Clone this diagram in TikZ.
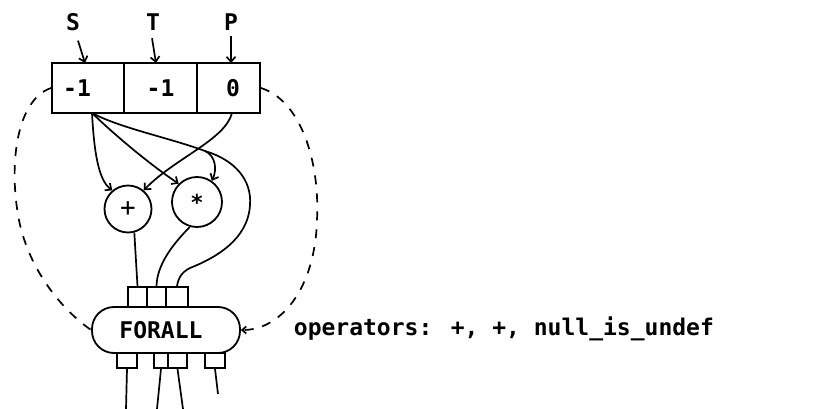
\documentclass[tikz,border=0pt]{standalone}
\usepackage{fontspec}
\newfontfamily\monof{DejaVu Sans Mono}
\usetikzlibrary{arrows.meta}
\begin{document}
\begin{tikzpicture}[x=1pt,y=-1pt,line width=1.8pt,
  txt/.style={font=\monof\bfseries\fontsize{23}{26}\selectfont},
  cell/.style={draw,txt,minimum height=50pt,inner sep=0pt},
  lbl/.style={txt,inner sep=0pt},
  op/.style={draw,circle,inner sep=0pt},
  port/.style={draw,inner sep=0pt,minimum width=20pt},
  wire/.style={line width=1.7pt},
  arr/.style={wire,-{Straight Barb[length=5pt,width=9pt]}},
  dashwire/.style={wire,dash pattern=on 9pt off 9pt}]
\useasboundingbox (0,0) rectangle (821,409);

% register cells
\node[cell,minimum width=72pt] (c1) at (88,88) {-1\hspace*{22pt}};
\node[cell,minimum width=73pt] (c2) at (160.5,88) {-1};
\node[cell,minimum width=63pt] (c3) at (228.5,88) {\hspace*{9pt}0};

% pointer labels
\node[lbl] (S) at (73,22) {S};
\node[lbl] (T) at (153,22) {T};
\node[lbl] (P) at (231,22) {P};
\coordinate (sIn) at (85,63);
\coordinate (tIn) at (156,63);
\coordinate (pIn) at (231,63);
\draw[arr] ([xshift=5pt,yshift=-9pt]S.south) -- (sIn);
\draw[arr] ([xshift=-1pt,yshift=-7pt]T.south) -- (tIn);
\draw[arr] ([yshift=-5pt]P.south) -- (pIn);

% operators
\node[op,minimum size=47pt,font=\monof\fontsize{26}{28}\selectfont] (plus) at (128,209) {+};
\node[op,minimum size=50pt,font=\monof\bfseries\fontsize{22}{26}\selectfont] (star) at (197,202) {*};

% FORALL and its ports
\node[draw,txt,rounded corners=22pt,minimum width=148pt,minimum height=46pt,inner sep=0pt] (fa) at (166,330) {FORALL\hspace*{10pt}};
\node[port,minimum width=19pt,minimum height=20pt] (t1) at (137.5,297) {};
\node[port,minimum width=19pt,minimum height=20pt] (t2) at (156.5,297) {};
\node[port,minimum width=22pt,minimum height=20pt] (t3) at (177,297) {};
\node[port,minimum width=20pt,minimum height=15pt] (b1) at (127,360.5) {};
\node[port,minimum width=14pt,minimum height=15pt] (b2) at (161,360.5) {};
\node[port,minimum width=19pt,minimum height=15pt] (b3) at (177.5,360.5) {};
\node[port,minimum width=20pt,minimum height=15pt] (b4) at (215,360.5) {};

% wires from S cell
\coordinate (src) at (92,113);
\coordinate (J) at (205,151);
\draw[arr] (src) .. controls (94,150) and (98,180) .. (plus.130);
\draw[arr] (src) .. controls (120,140) and (155,168) .. (star.135);
\draw[wire] (src) .. controls (120,128) and (170,138) .. (J);
\draw[arr] (J) .. controls (216,156) and (217,170) .. (star.55);
\draw[wire] (J) .. controls (235,160) and (252,180) .. (250,205)
  .. controls (248,240) and (215,258) .. (190,268)
  .. controls (180,273) and (178,280) .. (t3.north);

% wire from P cell
\coordinate (pOut) at (232,113);
\draw[arr] (pOut) .. controls (225,140) and (175,158) .. (plus.50);

% operators to FORALL
\draw[wire] (plus.285) -- (t1.north);
\draw[wire] (star.254) .. controls (172,245) and (157,265) .. (t2.north);

% outputs
\coordinate (e1) at (126,409);
\coordinate (e2) at (157,409);
\coordinate (e3) at (183,409);
\coordinate (e4) at (218,394);
\draw[wire] (b1.south) -- (e1);
\draw[wire] (b2.south) -- (e2);
\draw[wire] (b3.south) -- (e3);
\draw[wire] (b4.south) -- (e4);

% dashed loops
\draw[dashwire] (c1.west) .. controls (15,100) and (8,170) .. (20,225)
  .. controls (32,275) and (65,312) .. (fa.west);
\draw[dashwire,-{Straight Barb[length=4pt,width=7pt]}] (c3.east) .. controls (300,100) and (320,160) .. (317,220)
  .. controls (315,290) and (280,330) .. (fa.east);

% caption
\node[txt,anchor=base west,inner sep=0pt] (ops) at (293,335) {operators: +, +, null\_is\_undef};
\end{tikzpicture}
\end{document}
